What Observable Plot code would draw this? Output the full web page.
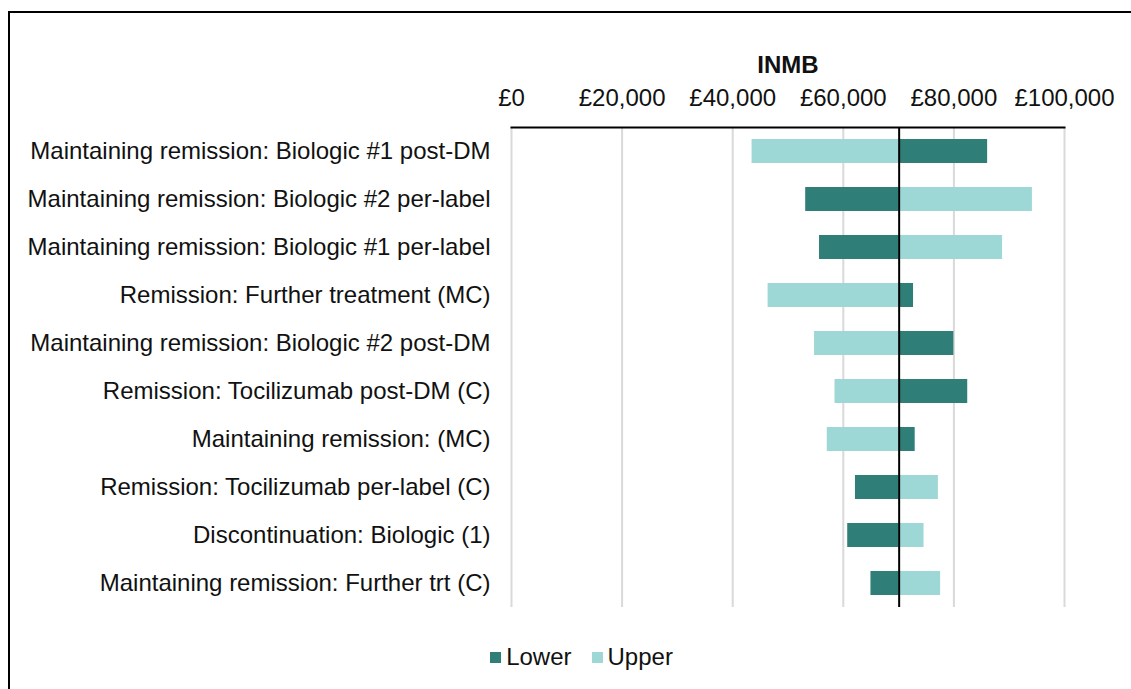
<!DOCTYPE html>
<html>
<head>
<meta charset="utf-8">
<script src="https://cdn.jsdelivr.net/npm/d3@7"></script>
<script src="https://cdn.jsdelivr.net/npm/@observablehq/plot@0.6"></script>
<style>
  html, body { margin: 0; padding: 0; background: #fff; overflow: hidden; }
  #wrap { position: relative; width: 1131px; height: 689px; font-family: "Liberation Sans", Arial, sans-serif; }
  #frame { position: absolute; left: 8px; top: 11px; width: 2000px; height: 2000px; border-left: 2px solid #000; border-top: 2px solid #000; }
  #chart { position: absolute; left: 0; top: 0; }
  #legend { position: absolute; left: 0; top: 643px; width: 1131px; display: flex; justify-content: center; align-items: center; font-size: 24px; color: #111; padding-left: 32px; box-sizing: border-box; }
  .item { display: flex; align-items: center; margin: 0 10px; }
  .sw { width: 11px; height: 11px; margin-right: 5px; }
</style>
</head>
<body>
<div id="wrap">
  <div id="frame"></div>
  <div id="chart"></div>
  <div id="legend"></div>
</div>
<script>
const categories = [
  "Maintaining remission: Biologic #1 post-DM",
  "Maintaining remission: Biologic #2 per-label",
  "Maintaining remission: Biologic #1 per-label",
  "Remission: Further treatment (MC)",
  "Maintaining remission: Biologic #2 post-DM",
  "Remission: Tocilizumab post-DM (C)",
  "Maintaining remission: (MC)",
  "Remission: Tocilizumab per-label (C)",
  "Discontinuation: Biologic (1)",
  "Maintaining remission: Further trt (C)"
];
const lowerValues = [86100, 53200, 55700, 72700, 80000, 82500, 73000, 62200, 60800, 65000];
const upperValues = [43500, 94200, 88800, 46400, 54800, 58500, 57100, 77200, 74600, 77600];
const baseValue = 70100;
const xTicks = [0, 20000, 40000, 60000, 80000, 100000];
const seriesNames = ["Lower", "Upper"];
const seriesColors = ["#2f7f78", "#9ed8d6"];

const rows = [];
categories.forEach((c, i) => {
  rows.push({category: c, series: "Lower", base: baseValue, value: lowerValues[i]});
  rows.push({category: c, series: "Upper", base: baseValue, value: upperValues[i]});
});

const fmt = d => "£" + d3.format(",")(d);

const chart = Plot.plot({
  width: 1131,
  height: 620,
  marginTop: 127,
  marginBottom: 13,
  marginLeft: 511,
  marginRight: 67,
  style: {fontFamily: "'Liberation Sans', Arial, sans-serif", fontSize: "24px", color: "#111", background: "transparent"},
  x: {domain: [0, 100000], ticks: xTicks, tickFormat: fmt},
  y: {domain: categories, paddingInner: 0.5, paddingOuter: 0.25},
  color: {domain: seriesNames, range: seriesColors},
  marks: [
    Plot.gridX(xTicks, {stroke: "#d9d9d9", strokeOpacity: 1, strokeWidth: 2}),
    Plot.barX(rows, {y: "category", x1: "base", x2: "value", fill: "series"}),
    Plot.ruleX([baseValue], {stroke: "#000", strokeWidth: 2}),
    Plot.frame({anchor: "top", stroke: "#000", strokeWidth: 2}),
    Plot.axisX({anchor: "top", ticks: xTicks, tickFormat: fmt, tickSize: 0, tickPadding: 22, label: "INMB", labelAnchor: "center", labelArrow: "none", labelOffset: 72, fontSize: 24}),
    Plot.axisY({tickSize: 0, tickPadding: 21, label: null, fontSize: 24})
  ]
});
document.getElementById("chart").appendChild(chart);

chart.querySelectorAll("g[aria-label='x-axis label'] text").forEach(t => t.setAttribute("font-weight", "bold"));

const legend = document.getElementById("legend");
seriesNames.forEach((s, i) => {
  const item = document.createElement("div");
  item.className = "item";
  const sw = document.createElement("div");
  sw.className = "sw";
  sw.style.background = seriesColors[i];
  const lab = document.createElement("span");
  lab.textContent = s;
  item.appendChild(sw);
  item.appendChild(lab);
  legend.appendChild(item);
});
</script>
</body>
</html>
